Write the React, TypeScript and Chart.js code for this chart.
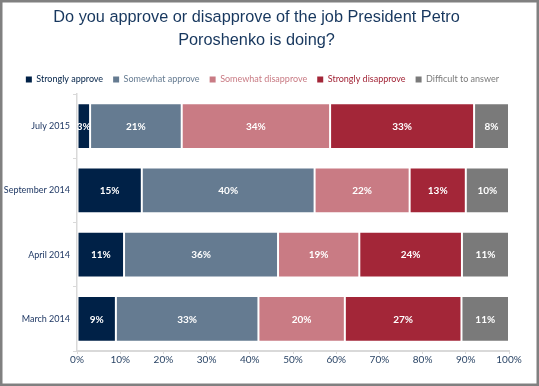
import React, { useEffect, useRef } from "react";
import { Chart, registerables } from "chart.js";

Chart.register(...registerables);

const categories = ["July 2015", "September 2014", "April 2014", "March 2014"];
const seriesNames = [
  "Strongly approve",
  "Somewhat approve",
  "Somewhat disapprove",
  "Strongly disapprove",
  "Difficult to answer",
];
const stronglyApprove = [3, 15, 11, 9];
const somewhatApprove = [21, 40, 36, 33];
const somewhatDisapprove = [34, 22, 19, 20];
const stronglyDisapprove = [33, 13, 24, 27];
const difficultToAnswer = [8, 10, 11, 11];
const titleLines = [
  "Do you approve or disapprove of the job President Petro",
  "Poroshenko is doing?",
];

const seriesColors = ["#002147", "#657b91", "#c97b84", "#a32638", "#7a7a7a"];
const FONT = "Lato, 'Liberation Sans', sans-serif";
const TITLE_FONT = "'Liberation Sans', 'DejaVu Sans', sans-serif";

const rawSeries = [
  stronglyApprove,
  somewhatApprove,
  somewhatDisapprove,
  stronglyDisapprove,
  difficultToAnswer,
];
const rowTotals = categories.map((_, j) =>
  rawSeries.reduce((s, arr) => s + arr[j], 0)
);

const framePlugin = {
  id: "frame",
  beforeDraw(chart: any) {
    const ctx = chart.ctx;
    ctx.save();
    ctx.fillStyle = "#ffffff";
    ctx.fillRect(0, 0, chart.width, chart.height);
    ctx.restore();
  },
  afterDraw(chart: any) {
    const ctx = chart.ctx;
    ctx.save();
    ctx.strokeStyle = "#808080";
    ctx.lineWidth = 3;
    ctx.strokeRect(1, 1, chart.width - 2, chart.height - 2);
    ctx.restore();
  },
};

const labelPlugin = {
  id: "segLabels",
  afterDatasetsDraw(chart: any) {
    const ctx = chart.ctx;
    ctx.save();
    ctx.fillStyle = "#ffffff";
    ctx.font = `bold 10px ${FONT}`;
    ctx.textAlign = "center";
    ctx.textBaseline = "middle";
    chart.data.datasets.forEach((ds: any, i: number) => {
      const meta = chart.getDatasetMeta(i);
      meta.data.forEach((bar: any, j: number) => {
        const p = bar.getProps(["x", "y", "base"], true);
        ctx.fillText(rawSeries[i][j] + "%", (p.x + p.base) / 2, p.y + 0.5);
      });
    });
    ctx.restore();
  },
};

export default function App() {
  const ref = useRef<HTMLCanvasElement | null>(null);

  useEffect(() => {
    if (!ref.current) return;
    const chart = new Chart(ref.current, {
      type: "bar",
      data: {
        labels: categories,
        datasets: rawSeries.map((arr, i) => ({
          label: seriesNames[i],
          data: arr.map((v, j) => (v / rowTotals[j]) * 100),
          backgroundColor: seriesColors[i],
          borderColor: "rgba(255,255,255,0.3)",
          borderWidth: 1,
          borderSkipped: false,
          barPercentage: 0.71,
          categoryPercentage: 1,
        })),
      },
      options: {
        indexAxis: "y",
        responsive: false,
        animation: false,
        layout: { padding: { left: 4, right: 30, top: 0, bottom: 7 } },
        plugins: {
          title: {
            display: true,
            text: titleLines,
            color: "#17375e",
            font: { family: TITLE_FONT, size: 16.3, weight: "normal", lineHeight: 23 / 16.3 },
            padding: { top: 6, bottom: 13 },
          },
          legend: {
            display: true,
            position: "top",
            align: "end",
            labels: {
              boxWidth: 6,
              boxHeight: 6,
              padding: 10,
              font: { family: FONT, size: 9 },
              generateLabels: (c: any) => {
                const items = (Chart.defaults as any).plugins.legend.labels.generateLabels(c);
                return items.map((it: any, i: number) => ({
                  ...it,
                  fontColor: seriesColors[i],
                  lineWidth: 0,
                  strokeStyle: seriesColors[i],
                }));
              },
            },
          },
          tooltip: { enabled: false },
        },
        scales: {
          x: {
            stacked: true,
            min: 0,
            max: 100,
            ticks: {
              stepSize: 10,
              callback: (v: any) => v + "%",
              color: "#2b4566",
              font: { family: FONT, size: 10 },
              padding: 0,
            },
            grid: {
              display: true,
              drawOnChartArea: false,
              drawTicks: true,
              tickLength: 3,
              color: "#d9d9d9",
            },
            border: { color: "#d9d9d9", width: 2 },
            afterFit: (s: any) => {
              s.height = 28;
            },
          },
          y: {
            stacked: true,
            ticks: {
              color: "#1f3864",
              font: { family: FONT, size: 9 },
              padding: 3,
            },
            grid: {
              display: true,
              offset: true,
              drawOnChartArea: false,
              tickLength: 4,
              color: "#d9d9d9",
            },
            border: { color: "#d9d9d9", width: 1.5 },
            afterFit: (s: any) => {
              s.width = 73;
            },
          },
        },
      },
      plugins: [framePlugin, labelPlugin],
    } as any);
    return () => chart.destroy();
  }, []);

  return (
    <div style={{ position: "fixed", left: 0, top: 0, width: 539, height: 386 }}>
      <canvas ref={ref} width={539} height={386} style={{ width: 539, height: 386, display: "block" }} />
    </div>
  );
}
